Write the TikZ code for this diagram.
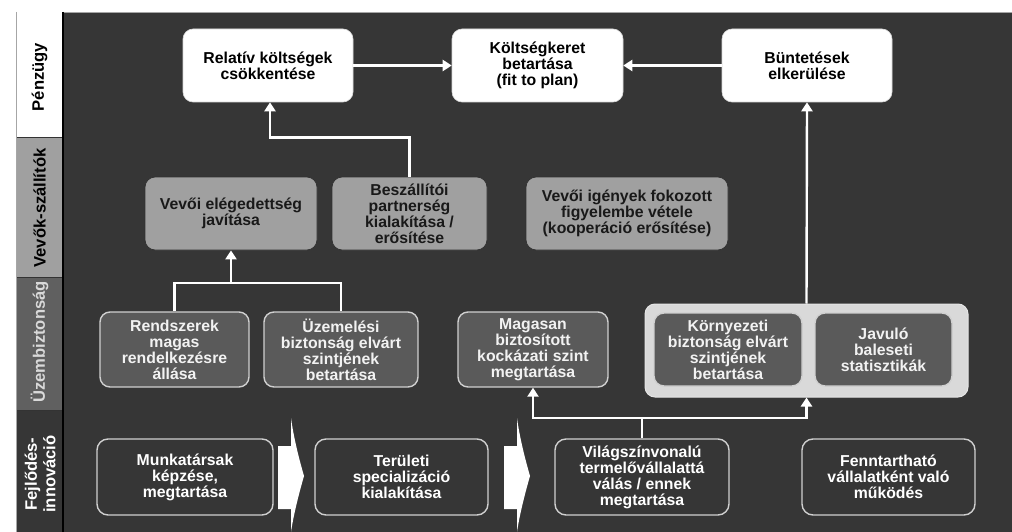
\documentclass[tikz,border=0pt]{standalone}
\usepackage{fontspec}
\setmainfont{Liberation Sans}
\usetikzlibrary{arrows.meta}
\definecolor{bgdark}{HTML}{363636}
\definecolor{lgray}{HTML}{A0A0A0}
\definecolor{mgray}{HTML}{606060}
\definecolor{boxmid}{HTML}{5A5A5A}
\definecolor{contfill}{HTML}{D9D9D9}
\definecolor{edgelight}{HTML}{D0D0D0}
\begin{document}
\begin{tikzpicture}[x=1pt,y=-1pt,
  txt/.style={font=\fontsize{15.8}{16}\selectfont\bfseries, align=center, inner sep=0pt},
  whitebox/.style={txt, rectangle, rounded corners=10pt, fill=white, draw=white!85!black, line width=0.6pt, minimum height=73pt, text=black},
  graybox/.style={txt, rectangle, rounded corners=10pt, fill=lgray, draw=black!80, line width=0.8pt, minimum height=73pt, text=black!90},
  midbox/.style={txt, rectangle, rounded corners=10pt, fill=boxmid, draw=edgelight, line width=1.4pt, minimum height=75pt, text=white!95!black},
  outbox/.style={txt, rectangle, rounded corners=11pt, fill=bgdark, draw=edgelight, line width=1.4pt, minimum height=76pt, text=white},
  lab/.style={font=\fontsize{16.6}{18.5}\selectfont\bfseries, align=center, rotate=90, inner sep=0pt},
  conn/.style={draw=white, line width=2.4pt},
  arr/.style={conn, -{Triangle[width=11pt,length=9pt]}},
  chev/.style={fill=white, draw=none}
]
\useasboundingbox (0,0) rectangle (1012,532);
\fill[white] (0,0) rectangle (1012,532);
% main dark area
\fill[bgdark] (63,12) rectangle (1012,532);
\draw[gray!70, line width=0.8pt] (16,532) -- (16,12) -- (1012,12);
% label column
\fill[white] (16,12) rectangle (63,137);
\fill[lgray] (16,137) rectangle (63,277);
\fill[mgray] (16,277) rectangle (63,410);
\fill[bgdark] (16,410) rectangle (63,532);
\draw[black!80, line width=0.6pt] (16,137) -- (63,137) (16,277) -- (63,277) (16,410) -- (63,410);
\draw[black, line width=1.2pt] (63,12) -- (63,532);
\draw[gray!70, line width=0.8pt] (16,12) -- (16,532);
\node[lab, text=black] (lp) at (39.5,77) {Pénzügy};
\node[lab, text=black] (lv) at (39.5,208) {Vevők-szállítók};
\node[lab, text=white!85!black] (lu) at (39.5,342) {Üzembiztonság};
\node[lab, text=white] (lf) at (40,474) {Fejlődés-\\innováció};

% top row
\node[whitebox, minimum width=170pt] (rel) at (268,65.5) {Relatív költségek\\csökkentése};
\node[whitebox, minimum width=171pt] (keret) at (537.5,65.5) {Költségkeret\\betartása\\(fit to plan)};
\node[whitebox, minimum width=170pt] (bunt) at (807,65.5) {Büntetések\\elkerülése};

% second row
\node[graybox, minimum width=172pt] (vevo) at (231,213.5) {Vevői elégedettség\\javítása};
\node[graybox, minimum width=155pt] (besz) at (409.5,213.5) {Beszállítói\\partnerség\\kialakítása /\\erősítése};
\node[graybox, minimum width=202pt] (igeny) at (627,213.5) {Vevői igények fokozott\\figyelembe vétele\\(kooperáció erősítése)};

% third row
\node[midbox, minimum width=149pt] (rend) at (174.5,349.5) {Rendszerek\\magas\\rendelkezésre\\állása};
\node[midbox, minimum width=154pt] (uzem) at (341,349.5) {Üzemelési\\biztonság elvárt\\szintjének\\betartása};
\node[midbox, minimum width=150pt] (mag) at (533,349.5) {Magasan\\biztosított\\kockázati szint\\megtartása};
\node[rectangle, rounded corners=10pt, fill=contfill, draw=white!90!black, line width=1pt, minimum width=323pt, minimum height=93pt, inner sep=0pt] (cont) at (806.5,350.5) {};
\node[midbox, minimum width=148pt, minimum height=73pt] (korny) at (728,349.5) {Környezeti\\biztonság elvárt\\szintjének\\betartása};
\node[midbox, minimum width=137pt, minimum height=73pt] (jav) at (883.5,349.5) {Javuló\\baleseti\\statisztikák};

% bottom row
\node[outbox, minimum width=176pt] (munk) at (185,477) {Munkatársak\\képzése,\\megtartása};
\node[outbox, minimum width=173pt] (teru) at (401.5,477) {Területi\\specializáció\\kialakítása};
\node[outbox, minimum width=174pt] (vilag) at (642,477) {Világszínvonalú\\termelővállalattá\\válás / ennek\\megtartása};
\node[outbox, minimum width=173pt] (fennt) at (888.5,477) {Fenntartható\\vállalatként való\\működés};

% chevrons
\foreach \dx in {0,226}{
  \fill[chev, xshift=\dx pt] (278,446) -- (291,446) -- (291,418)
     .. controls (294,440) and (300,462) .. (304,476)
     .. controls (300,490) and (294,512) .. (291,532)
     -- (291,509) -- (278,509) -- cycle;
}

% connectors
\draw[arr] (rel.east) -- (keret.west);
\draw[arr] (bunt.west) -- (keret.east);
\draw[arr] (besz.north) -- ++(0,-39) -| ([xshift=2pt]rel.south);
\draw[arr] (cont.north) -- (bunt.south);
\coordinate (j1) at (231,283);
\draw[conn] (rend.north) |- (j1) -| (uzem.north);
\draw[arr] (j1) -- (vevo.south);
\coordinate (j2) at (642,418);
\draw[conn] (vilag.north) -- (j2);
\draw[arr] (j2) -| (mag.south);
\draw[arr] (j2) -| (cont.south);
\end{tikzpicture}
\end{document}
